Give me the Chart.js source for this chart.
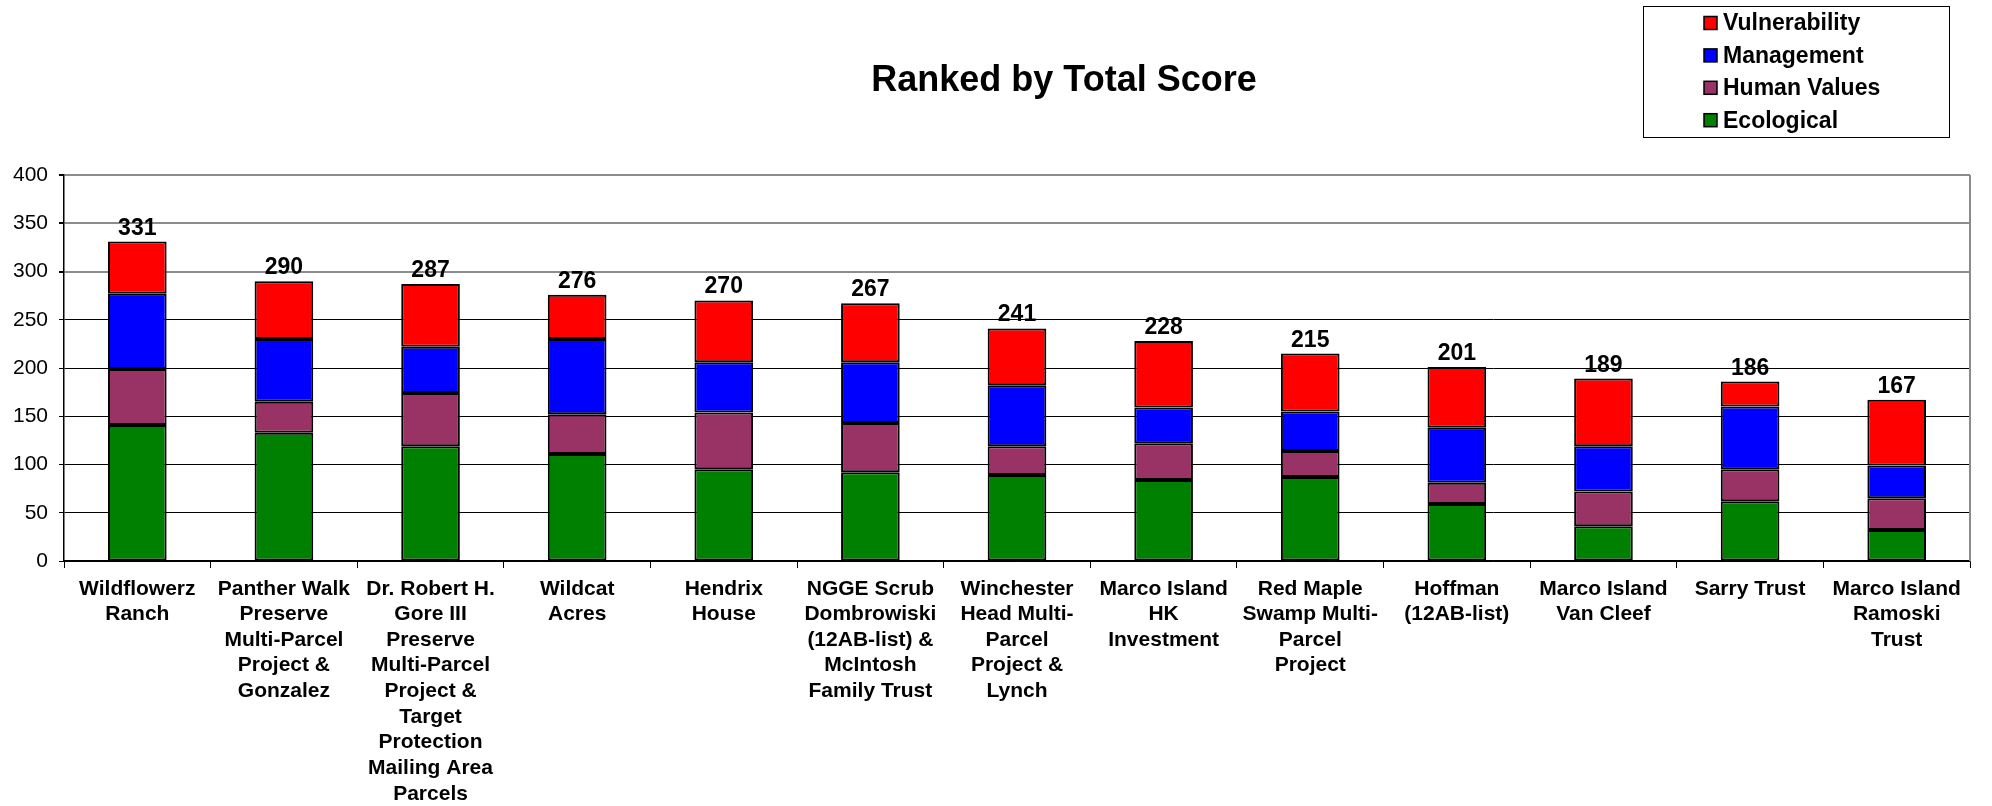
<!DOCTYPE html>
<html>
<head>
<meta charset="utf-8">
<script src="https://cdn.jsdelivr.net/npm/chart.js@4.4.1/dist/chart.umd.min.js"></script>
<style>
    body { margin: 0; background: #fff; }
    canvas { display: block; }
</style>
</head>
<body>
<canvas id="chart" width="1992" height="806"></canvas>
<script>
const categories = [
    ["Wildflowerz", "Ranch"],
    ["Panther Walk", "Preserve", "Multi-Parcel", "Project &", "Gonzalez"],
    ["Dr. Robert H.", "Gore III", "Preserve", "Multi-Parcel", "Project &", "Target", "Protection", "Mailing Area", "Parcels"],
    ["Wildcat", "Acres"],
    ["Hendrix", "House"],
    ["NGGE Scrub", "Dombrowiski", "(12AB-list) &", "McIntosh", "Family Trust"],
    ["Winchester", "Head Multi-", "Parcel", "Project &", "Lynch"],
    ["Marco Island", "HK", "Investment"],
    ["Red Maple", "Swamp Multi-", "Parcel", "Project"],
    ["Hoffman", "(12AB-list)"],
    ["Marco Island", "Van Cleef"],
    ["Sarry Trust"],
    ["Marco Island", "Ramoski", "Trust"]
];

const ecological    = [141, 133, 119, 111, 95, 92, 89, 84, 87, 59, 36, 62, 32];
const humanValues   = [58, 32, 55, 41, 59, 51, 30, 38, 27, 22, 36, 33, 33];
const management    = [78, 65, 48, 78, 52, 63, 63, 37, 41, 57, 47, 65, 34];
const vulnerability = [54, 60, 65, 46, 64, 61, 59, 69, 60, 63, 70, 26, 68];

const yTicks = [0, 50, 100, 150, 200, 250, 300, 350, 400];

const fontFamily = "'Liberation Sans', Arial, sans-serif";

// totals on top, title, legend box and the grey right border
const extrasPlugin = {
    id: "extras",
    afterDatasetsDraw(chart) {
        const ctx = chart.ctx;
        const area = chart.chartArea;
        ctx.save();

        ctx.strokeStyle = "#8c8c8c";
        ctx.lineWidth = 2;
        ctx.beginPath();
        ctx.moveTo(area.right, area.top);
        ctx.lineTo(area.right, area.bottom);
        ctx.stroke();

        const topMeta = chart.getDatasetMeta(chart.data.datasets.length - 1);
        ctx.fillStyle = "#000";
        ctx.font = "bold 23px " + fontFamily;
        ctx.textAlign = "center";
        ctx.textBaseline = "alphabetic";
        categories.forEach((c, i) => {
            const total = chart.data.datasets.reduce((s, ds) => s + ds.data[i], 0);
            const bar = topMeta.data[i];
            ctx.fillText(String(total), bar.x, bar.y - 7);
        });

        ctx.font = "bold 36px " + fontFamily;
        ctx.fillText("Ranked by Total Score", 1064, 91);

        // legend
        ctx.strokeStyle = "#000";
        ctx.lineWidth = 1;
        ctx.strokeRect(1643.5, 6.5, 306, 131);
        ctx.font = "bold 23px " + fontFamily;
        ctx.textAlign = "left";
        ctx.textBaseline = "middle";
        const items = chart.data.datasets.slice().reverse();
        items.forEach((ds, i) => {
            const cy = 23 + i * 32.4;
            ctx.fillStyle = ds.backgroundColor;
            ctx.fillRect(1704, cy - 6.5, 13, 13);
            ctx.strokeStyle = "#000";
            ctx.lineWidth = 1.5;
            ctx.strokeRect(1704, cy - 6.5, 13, 13);
            ctx.fillStyle = "#000";
            ctx.fillText(ds.label, 1723, cy + 1);
        });
        ctx.restore();
    }
};

function makeSet(label, data, color) {
    return {
        label: label,
        data: data,
        backgroundColor: color,
        borderColor: "#000",
        borderWidth: 2,
        borderSkipped: false,
        categoryPercentage: 1,
        barPercentage: 0.4
    };
}

new Chart(document.getElementById("chart").getContext("2d"), {
    type: "bar",
    data: {
        labels: categories,
        datasets: [
            makeSet("Ecological", ecological, "#008000"),
            makeSet("Human Values", humanValues, "#993366"),
            makeSet("Management", management, "#0000FF"),
            makeSet("Vulnerability", vulnerability, "#FF0000")
        ]
    },
    options: {
        responsive: false,
        animation: false,
        layout: { padding: { top: 175, right: 22, left: 0, bottom: 0 } },
        plugins: {
            legend: { display: false },
            title: { display: false },
            tooltip: { enabled: false }
        },
        scales: {
            x: {
                stacked: true,
                offset: true,
                afterFit(scale) { scale.height = 245; },
                grid: {
                    offset: true,
                    drawOnChartArea: false,
                    drawTicks: true,
                    tickLength: 7,
                    color: "#000"
                },
                border: { color: "#000", width: 1.5 },
                ticks: {
                    autoSkip: false,
                    maxRotation: 0,
                    minRotation: 0,
                    padding: 8,
                    color: "#000",
                    font: { family: fontFamily, size: 21, weight: "bold", lineHeight: 1.22 }
                }
            },
            y: {
                stacked: true,
                min: 0,
                max: 400,
                afterFit(scale) { scale.width = 64; },
                afterBuildTicks(scale) { scale.ticks = yTicks.map(v => ({ value: v })); },
                grid: {
                    color: ctx => (ctx.tick && ctx.tick.value >= 300 ? "#8c8c8c" : "#000"),
                    lineWidth: ctx => (ctx.tick && ctx.tick.value >= 300 ? 2 : 1),
                    tickLength: 5,
                    tickColor: "#000"
                },
                border: { color: "#000", width: 1.5 },
                ticks: {
                    padding: 11,
                    color: "#000",
                    font: { family: fontFamily, size: 21 }
                }
            }
        }
    },
    plugins: [extrasPlugin]
});
</script>
</body>
</html>
